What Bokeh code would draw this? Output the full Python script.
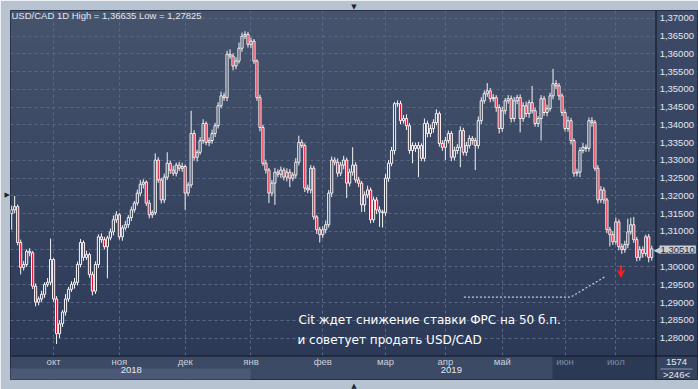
from bokeh.plotting import figure
from bokeh.models import (Range1d, LinearAxis, FixedTicker, CustomJSTickFormatter, Grid, Title,
                          BoxAnnotation, Label, Arrow, VeeHead, ColumnDataSource)
from bokeh.embed import file_html
from bokeh.resources import INLINE

# ---------------- data (USD/CAD daily, prices in pips = price*10000) ----------------
first_open = 13150
closes = [
    13161, 13170, 13069, 12999, 13007, 13044, 13040, 12946, 12901, 12910,
    12923, 12951, 12957, 13021, 12910, 12812, 12840, 12873, 12910, 12937,
    12951, 12957, 13007, 13069, 13027, 13035, 12979, 12932, 13007, 13085,
    13077, 13057, 13082, 13099, 13133, 13147, 13085, 13110, 13119, 13139,
    13161, 13180, 13208, 13233, 13239, 13180, 13147, 13153, 13301, 13245,
    13189, 13253, 13292, 13273, 13264, 13287, 13278, 13283, 13208, 13231,
    13376, 13309, 13323, 13356, 13404, 13351, 13356, 13376, 13398, 13454,
    13482, 13477, 13599, 13594, 13566, 13580, 13616, 13650, 13655, 13627,
    13636, 13580, 13477, 13393, 13292, 13273, 13208, 13236, 13267, 13261,
    13273, 13253, 13267, 13250, 13259, 13295, 13351, 13342, 13222, 13217,
    13278, 13141, 13105, 13091, 13105, 13119, 13208, 13301, 13295, 13264,
    13287, 13301, 13236, 13267, 13287, 13245, 13236, 13175, 13203, 13217,
    13133, 13189, 13161, 13155, 13153, 13250, 13292, 13328, 13460, 13460,
    13412, 13418, 13398, 13328, 13342, 13334, 13342, 13306, 13404, 13376,
    13390, 13407, 13432, 13348, 13337, 13356, 13376, 13309, 13328, 13337,
    13384, 13323, 13342, 13362, 13356, 13342, 13412, 13468, 13488, 13496,
    13474, 13477, 13449, 13390, 13440, 13468, 13474, 13418, 13468, 13477,
    13418, 13454, 13432, 13463, 13440, 13404, 13418, 13474, 13435, 13446,
    13482, 13516, 13510, 13482, 13435, 13390, 13412, 13356, 13264, 13267,
    13328, 13337, 13334, 13412, 13407, 13278, 13189, 13217, 13189, 13105,
    13091, 13071, 13127, 13057, 13049, 13063, 13099, 13119, 13077, 13027,
    13049, 13038, 13085, 13027, 13051,
]
upper_wick = [
    12, 30, 6, 8, 10, 6, 9, 5, 8, 7,
    10, 6, 12, 59, 4, 8, 10, 6, 14, 7,
    9, 12, 8, 10, 6, 11, 5, 8, 9, 7,
    10, 8, 6, 9, 12, 10, 5, 8, 11, 7,
    9, 6, 10, 12, 8, 5, 9, 7, 19, 8,
    6, 10, 31, 8, 12, 7, 9, 11, 6, 8,
    64, 9, 7, 10, 12, 6, 9, 11, 8, 10,
    12, 9, 10, 14, 8, 11, 16, 10, 9, 7,
    10, 6, 5, 8, 7, 10, 6, 9, 12, 8,
    10, 7, 11, 9, 8, 12, 19, 8, 6, 10,
    9, 7, 5, 8, 10, 12, 9, 10, 8, 11,
    9, 12, 7, 10, 50, 8, 9, 6, 10, 12,
    7, 9, 8, 10, 6, 12, 9, 10, 5, 9,
    8, 10, 12, 7, 9, 8, 10, 6, 14, 8,
    11, 9, 12, 6, 9, 10, 8, 7, 11, 9,
    12, 8, 10, 9, 7, 8, 12, 10, 9, 22,
    8, 10, 7, 9, 12, 8, 10, 9, 11, 8,
    9, 10, 12, 8, 47, 9, 7, 10, 8, 11,
    9, 42, 10, 8, 7, 9, 12, 8, 6, 10,
    9, 12, 8, 9, 10, 7, 9, 11, 8, 6,
    8, 10, 12, 7, 9, 11, 37, 20, 22, 8,
    10, 9, 6, 8, 9,
]
lower_wick = [
    45, 10, 8, 20, 9, 7, 10, 8, 12, 9,
    8, 10, 7, 9, 8, 29, 12, 9, 10, 8,
    7, 12, 9, 8, 10, 7, 9, 12, 8, 10,
    9, 8, 89, 7, 10, 9, 8, 11, 7, 9,
    10, 8, 7, 9, 12, 8, 10, 9, 7, 8,
    10, 9, 8, 11, 7, 9, 8, 10, 47, 9,
    8, 10, 12, 7, 9, 8, 11, 9, 10, 8,
    7, 9, 10, 8, 12, 9, 7, 10, 8, 9,
    10, 8, 9, 11, 7, 10, 28, 9, 61, 8,
    10, 9, 12, 25, 8, 10, 9, 7, 11, 9,
    10, 8, 12, 22, 9, 10, 8, 11, 9, 10,
    8, 12, 42, 9, 10, 8, 11, 20, 20, 9,
    10, 8, 12, 42, 42, 9, 10, 8, 11, 9,
    10, 8, 12, 9, 36, 10, 81, 8, 9, 11,
    10, 12, 8, 9, 10, 36, 8, 11, 9, 10,
    56, 9, 10, 8, 12, 69, 9, 10, 8, 9,
    10, 8, 12, 14, 9, 10, 8, 11, 9, 10,
    39, 9, 10, 12, 8, 9, 10, 62, 9, 11,
    8, 10, 9, 12, 10, 8, 9, 11, 10, 9,
    14, 8, 10, 9, 12, 8, 10, 9, 11, 10,
    33, 9, 8, 10, 12, 9, 10, 8, 9, 11,
    9, 12, 8, 14, 9,
]
month_start_idx = [14, 36, 58, 80, 104, 125, 145, 164]
month_labels = ["окт", "ноя", "дек", "янв", "фев", "мар", "апр", "май"]
late_month_idx = [185, 202]
late_month_labels = ["июн", "июл"]
year_label_pos = [40, 147]
year_labels = ["2018", "2019"]
grid_price = [1.28, 1.285, 1.29, 1.295, 1.30, 1.305, 1.31, 1.315, 1.32, 1.325,
              1.33, 1.335, 1.34, 1.345, 1.35, 1.355, 1.36, 1.365, 1.37]
axis_price = [1.28, 1.285, 1.29, 1.295, 1.30, 1.31, 1.315, 1.32, 1.325,
              1.33, 1.335, 1.34, 1.345, 1.35, 1.355, 1.36, 1.365, 1.37]
last_price_text = "1,30510"
title_text = "USD/CAD 1D High = 1,36635 Low = 1,27825"
note_lines = ["Cit ждет снижение ставки ФРС на 50 б.п.", "и советует продать USD/CAD"]
bars_total_text = "1574"
bars_visible_text = ">246<"
callout_idx = [151.2, 186.9, 198.6]
callout_price = [1.29151, 1.29151, 1.29737]
arrow_idx = 203.7
arrow_from, arrow_to = 1.3005, 1.2972

# ---------------- derived OHLC ----------------
n = min(len(closes), len(upper_wick), len(lower_wick))
c = closes[:n]
o = [first_open] + c[:-1]
hi = [max(a, b) + u for a, b, u in zip(o, c, upper_wick[:n])]
lo = [min(a, b) - l for a, b, l in zip(o, c, lower_wick[:n])]
to_p = lambda v: v / 10000.0
is_up = [b >= a for a, b in zip(o, c)]
src = ColumnDataSource(dict(
    x=list(range(n)), hi=[to_p(v) for v in hi], lo=[to_p(v) for v in lo],
    top=[to_p(max(a, b)) for a, b in zip(o, c)],
    bot=[to_p(min(a, b)) for a, b in zip(o, c)],
    fill=["#35425f" if u else "#e5102e" for u in is_up],
))

# ---------------- layout constants ----------------
CHART_RIGHT = 215.3        # x (bar units) of the price-panel separator
CHART_BOTTOM = 1.27556     # price at the time-panel separator
YEAR_ROW = 1.27195         # price at the top of the year row

fig = figure(width=698, height=389, output_backend="svg", toolbar_location=None,
             x_range=Range1d(-0.4, 229.3), y_range=Range1d(1.26832, 1.37223),
             x_axis_location=None, y_axis_location=None,
             min_border_left=9, min_border_top=9, min_border_right=1, min_border_bottom=8,
             background_fill_color="#3a4866", border_fill_color="#b8c3d2",
             outline_line_color="#0d131d", outline_line_width=1)
# drop the default grids, use our own
fig.center = [r for r in fig.center if not isinstance(r, Grid)]

fig.add_layout(Grid(dimension=1, ticker=FixedTicker(ticks=grid_price),
                    grid_line_color="#5a6886", grid_line_dash="3 3", grid_line_width=1))
fig.add_layout(Grid(dimension=0, ticker=FixedTicker(ticks=month_start_idx + late_month_idx),
                    grid_line_color="#5a6886", grid_line_dash="3 3", grid_line_width=1))

def cbox(l, r, t, b, color, alpha=1.0, level="underlay"):
    fig.add_layout(BoxAnnotation(left=l, right=r, top=t, bottom=b,
                                 left_units="canvas", right_units="canvas",
                                 top_units="canvas", bottom_units="canvas",
                                 fill_color=color, fill_alpha=alpha, line_color=None,
                                 level=level))

def mix(c1, c2, t):
    return "#%02x%02x%02x" % tuple(int(round(c1[j] + (c2[j] - c1[j]) * t)) for j in range(3))

# chart background gradient
nb = 30
for k in range(nb):
    cbox(9, 656, 9 + 346 * k / nb, 9 + 346 * (k + 1) / nb + 1,
         mix((70, 83, 108), (44, 58, 88), (k + 0.5) / nb), level="image")
# price panel gradient
for k in range(15):
    cbox(655, 698, 9 + 346 * k / 15, 9 + 346 * (k + 1) / 15 + 1,
         mix((62, 75, 103), (46, 59, 89), (k + 0.5) / 15))
# time panel
cbox(9, 655, 355, 382, "#3d4a66")
cbox(9, 250, 368, 381, "#4b5976")
cbox(552, 655, 356, 381, "#2c3954")
# corner
cbox(655, 698, 355, 382, "#36435f")
cbox(660, 692, 368, 369, "#8d99ad")
# separators
cbox(655, 656, 9, 382, "#0d131d")
cbox(9, 698, 355, 356, "#0d131d")

# axes drawn at fixed locations inside the frame
ya = LinearAxis(fixed_location=CHART_RIGHT, ticker=FixedTicker(ticks=axis_price),
                formatter=CustomJSTickFormatter(code="return tick.toFixed(5).replace('.', ',');"),
                major_label_text_font="Liberation Sans", major_label_text_font_size="9.5px",
                major_label_text_color="#e2e8f2", axis_line_color=None,
                major_tick_line_color=None, minor_tick_line_color=None,
                major_tick_out=0, major_tick_in=0, major_label_standoff=4)
fig.add_layout(ya, "right")

def time_axis(ticks, labels, loc, color, standoff):
    ax = LinearAxis(fixed_location=loc, ticker=FixedTicker(ticks=ticks),
                    major_label_overrides={i: s for i, s in zip(ticks, labels)},
                    major_label_text_font="Liberation Sans", major_label_text_font_size="9.5px",
                    major_label_text_color=color, axis_line_color=None,
                    major_tick_line_color=None, minor_tick_line_color=None,
                    major_tick_out=0, major_tick_in=0, major_label_standoff=standoff)
    fig.add_layout(ax, "below")

time_axis(month_start_idx, month_labels, CHART_BOTTOM, "#c8d0dd", 2)
time_axis(late_month_idx, late_month_labels, CHART_BOTTOM, "#7d8aa1", 2)
time_axis(year_label_pos, year_labels, YEAR_ROW, "#e2e8f2", 0)

# candles
fig.segment(x0="x", y0="lo", x1="x", y1="hi", source=src, line_color="#f4f4f4", line_width=1)
fig.vbar(x="x", top="top", bottom="bot", width=0.72, source=src,
         fill_color="fill", line_color="#f4f4f4", line_width=1)

# callout and arrow
fig.line(callout_idx, callout_price, line_color="#c5ccd8", line_dash="2 2", line_width=1.2)
fig.add_layout(Arrow(end=VeeHead(size=7, fill_color="#ff2020", line_color="#ff2020"),
                     x_start=arrow_idx, y_start=arrow_from, x_end=arrow_idx, y_end=arrow_to,
                     line_color="#ff2020", line_width=2))

def clabel(x, y, text, size, color, align="left", font="Liberation Sans", **kw):
    fig.add_layout(Label(x=x, y=y, x_units="canvas", y_units="canvas", text=text,
                         text_font=font, text_font_size=size, text_color=color,
                         text_align=align, text_baseline="middle", **kw))

clabel(11, 15, title_text, "9.5px", "#e1e7f0")
clabel(298, 319, note_lines[0], "12px", "#ffffff", font="DejaVu Sans")
clabel(297, 339, note_lines[1], "12px", "#ffffff", font="DejaVu Sans")
clabel(676, 361, bars_total_text, "9.5px", "#e2e8f2", align="center")
clabel(676, 374, bars_visible_text, "9.5px", "#e2e8f2", align="center")
clabel(653, 249, "◀", "9px", "#c9cdd4", font="DejaVu Sans")
clabel(659, 249, last_price_text, "9.5px", "#1d2a40",
       background_fill_color="#c9cdd4", padding=1)

# small frame markers
for side, txt in (("above", "▼"), ("below", "▲"), ("left", "▼")):
    fig.add_layout(Title(text=txt, align="center", text_font="DejaVu Sans",
                         text_font_size="7px", text_font_style="normal",
                         text_color="#1c2533", standoff=0, offset=-4), side)

open("out.html", "w").write(file_html(fig, INLINE))
